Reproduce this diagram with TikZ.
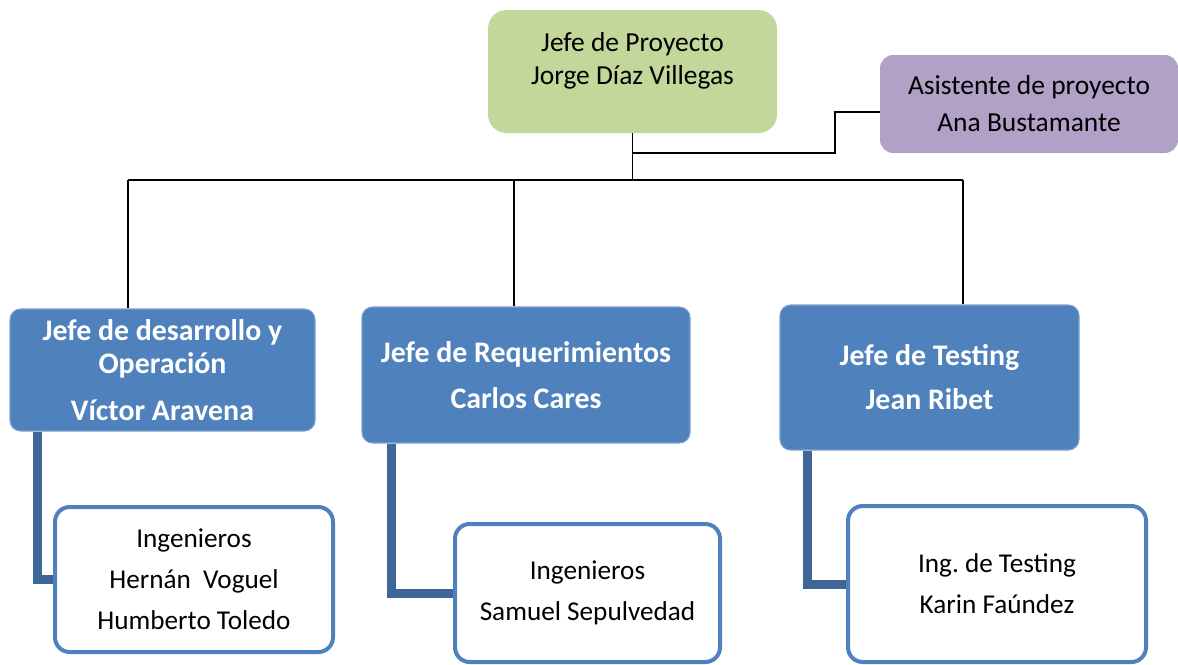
\documentclass[tikz,border=0pt]{standalone}
\usepackage{fontspec}
\setmainfont{Carlito}
\usetikzlibrary{positioning}
\definecolor{verde}{RGB}{196,215,155}
\definecolor{lila}{RGB}{178,161,199}
\definecolor{azul}{RGB}{79,129,189}
\definecolor{azulosc}{RGB}{62,102,150}
\frenchspacing
\begin{document}
\begin{tikzpicture}[x=0.75pt,y=-0.75pt,
    linea/.style={draw=black,line width=1.1pt},
    conector/.style={draw=azulosc,line width=6.75pt},
    verdecaja/.style={fill=verde,rounded corners=14pt},
    lilacaja/.style={fill=lila,rounded corners=10pt,align=center,
        font=\fontsize{20.6}{27.75}\selectfont},
    azulcaja/.style={fill=azul,draw=azul!75!white,line width=0.8pt,rounded corners=8pt,
        align=center,text=white,font=\bfseries\fontsize{22.4}{24.75}\selectfont},
    blancacaja/.style={fill=white,draw=azul,line width=3pt,rounded corners=11pt,
        align=center,font=\fontsize{20.4}{30.75}\selectfont},
    texto/.style={align=center,font=\fontsize{20.6}{24.75}\selectfont}]
    \useasboundingbox (0,0) rectangle (1178,664);

    % jefe de proyecto y asistente
    \node[verdecaja,minimum width=216.75pt,minimum height=92.25pt](jefe) at (632.5,71.5){};
    \node[texto](jefetxt) at (632.5,60.5){Jefe de Proyecto\\Jorge Díaz Villegas};
    \node[lilacaja,minimum width=223.5pt,minimum height=73.5pt](asis) at (1029,104)
        {Asistente de proyecto\\Ana Bustamante};

    % jefes de area
    \node[azulcaja,minimum width=228.75pt,minimum height=91.5pt](dev) at (162.5,370)
        {Jefe de desarrollo y\\Operación\\[10.5pt]Víctor Aravena};
    \node[azulcaja,minimum width=246pt,minimum height=102pt](req) at (526,375)
        {Jefe de Requerimientos\\[9.75pt]Carlos Cares};
    \node[azulcaja,minimum width=224.25pt,minimum height=108.75pt](test) at (929.5,377.5)
        {Jefe de Testing\\[8.25pt]Jean Ribet};

    % equipos
    \node[blancacaja,minimum width=208.5pt,minimum height=108.75pt](ing1) at (194,579.5)
        {Ingenieros\\Hernán\ \ Voguel\\Humberto Toledo};
    \node[blancacaja,minimum width=198.75pt,minimum height=103.5pt](ing2) at (587.5,593)
        {Ingenieros\\Samuel Sepulvedad};
    \node[blancacaja,minimum width=223.5pt,minimum height=117pt](ing3) at (997,584)
        {Ing. de Testing\\Karin Faúndez};

    \coordinate(bus) at (632.5,180);
    \coordinate(rama) at (632.5,153);
    \coordinate(b1) at (128,180);
    \coordinate(b2) at (514,180);
    \coordinate(b3) at (963,180);

    \draw[linea](jefe)--(bus);
    \draw[linea](b1)--(b3);
    \draw[linea](rama)--++(202.5,0)|-([yshift=-6pt]asis.west);
    \draw[linea](b1)--(b1|-dev.north);
    \draw[linea](b2)--(b2|-req.north);
    \draw[linea](b3)--(b3|-test.north);

    \draw[conector]([xshift=21pt]dev.south west)|-(ing1.west);
    \draw[conector]([xshift=22.5pt]req.south west)|-(ing2.west);
    \draw[conector]([xshift=21pt]test.south west)|-(ing3.west);
\end{tikzpicture}
\end{document}
